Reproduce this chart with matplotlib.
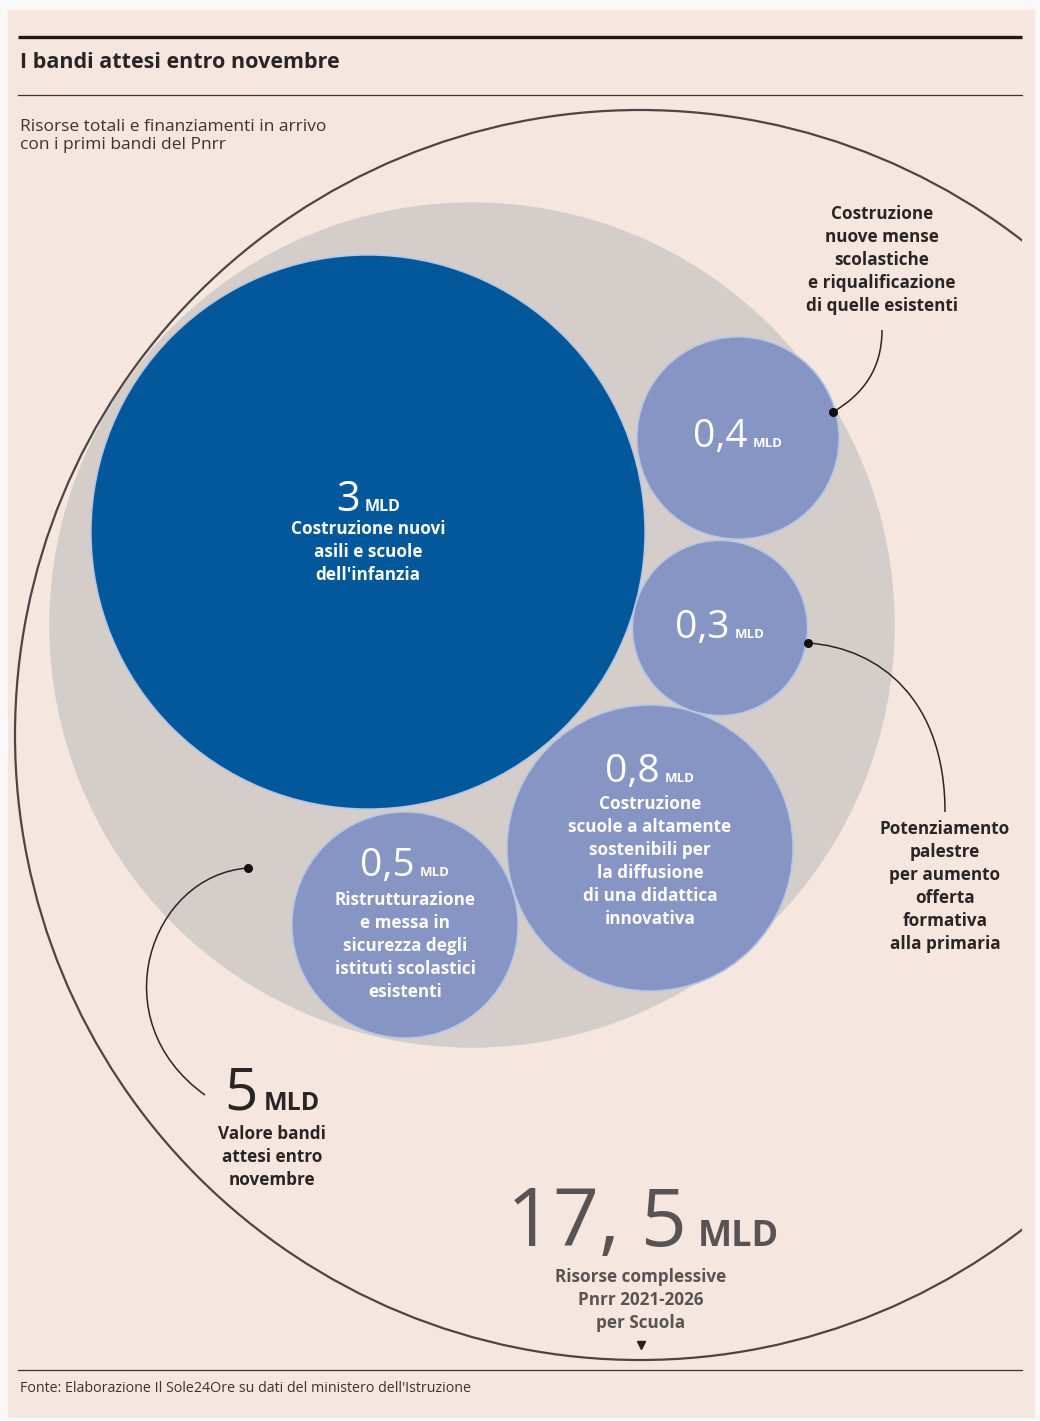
import matplotlib.pyplot as plt
from matplotlib.patches import Circle, Rectangle, PathPatch
from matplotlib.path import Path
import numpy as np

# --- dati ---
bandi_valori = [3, 0.4, 0.3, 0.8, 0.5]
bandi_etichette = ['3', '0,4', '0,3', '0,8', '0,5']
bandi_descrizioni = [
    "Costruzione nuovi\nasili e scuole\ndell'infanzia",
    "",
    "",
    "Costruzione\nscuole a altamente\nsostenibili per\nla diffusione\ndi una didattica\ninnovativa",
    "Ristrutturazione\ne messa in\nsicurezza degli\nistituti scolastici\nesistenti",
]
note_esterne = [
    "",
    "Costruzione\nnuove mense\nscolastiche\ne riqualificazione\ndi quelle esistenti",
    "Potenziamento\npalestre\nper aumento\nofferta\nformativa\nalla primaria",
    "",
    "",
]
totale_bandi = 5
totale_bandi_label = '5'
totale_pnrr = 17.5
totale_pnrr_label = '17, 5'

W, H = 1040, 1421
FONT = 'Open Sans'
BG = '#f5e7df'
GREY = '#d5cdc9'
DARK_BLUE = '#03589c'
LIGHT_BLUE = '#8795c4'
INK = '#2b2424'
LINE = '#4d4545'

# layout (pixel) – bolle impacchettate a mano come nell'originale
scale = 160  # px per sqrt(mld)
centers = [(368, 532), (738, 438), (720, 628), (650, 848), (405, 925)]
num_baseline = [511, 447, 638, 782, 876]
desc_offset = [9, 0, 0, 13, 15]
num_size = [30, 28, 28, 28, 28]
unit_size = [11.5, 9.5, 9.5, 9.5, 9.5]
desc_size = 12.3
LS = 1.36

fig = plt.figure(figsize=(W / 100, H / 100), dpi=100)
fig.patch.set_facecolor('#fbf9f7')
ax = fig.add_axes([0, 0, 1, 1])
ax.set_xlim(0, W)
ax.set_ylim(H, 0)
ax.set_aspect('equal')
ax.axis('off')

ax.add_patch(Rectangle((8, 10), W - 14, H - 14, color=BG, zorder=0))

# cerchio grigio (5 mld) e anello esterno (17,5 mld)
ax.add_patch(Circle((472, 625), 422, color=GREY, zorder=1))
outer = Circle((640, 735), 625, fill=False, lw=1.6, ec=LINE, zorder=2)
ax.add_patch(outer)
outer.set_clip_path(Rectangle((0, 0), 1022, H, transform=ax.transData))

renderer = fig.canvas.get_renderer()


def number_unit(cx, y, num, unit, nsize, usize, color, nweight='normal', uweight='bold', gap=5):
    t1 = ax.text(0, y, num, fontsize=nsize, family=FONT, weight=nweight, color=color,
                 ha='left', va='baseline', zorder=5)
    t2 = ax.text(0, y, unit, fontsize=usize, family=FONT, weight=uweight, color=color,
                 ha='left', va='baseline', zorder=5)
    w1 = t1.get_window_extent(renderer).width
    w2 = t2.get_window_extent(renderer).width
    x0 = cx - (w1 + gap + w2) / 2
    t1.set_x(x0)
    t2.set_x(x0 + w1 + gap)


for i, v in enumerate(bandi_valori):
    cx, cy = centers[i]
    r = scale * np.sqrt(v)
    col = DARK_BLUE if i == 0 else LIGHT_BLUE
    ax.add_patch(Circle((cx, cy), r, fc=col, ec='#b8c8e4', lw=1.2, zorder=3))
    number_unit(cx, num_baseline[i], bandi_etichette[i], 'MLD', num_size[i], unit_size[i], 'white')
    if bandi_descrizioni[i]:
        ax.text(cx, num_baseline[i] + desc_offset[i], bandi_descrizioni[i], fontsize=desc_size,
                family=FONT, weight='bold', color='white', ha='center', va='top',
                linespacing=LS, zorder=5)

# note esterne
ax.text(882, 205, note_esterne[1], fontsize=desc_size, family=FONT, weight='bold', color=INK,
        ha='center', va='top', linespacing=LS)
ax.text(945, 820, note_esterne[2], fontsize=desc_size, family=FONT, weight='bold', color=INK,
        ha='center', va='top', linespacing=LS)

# linee di richiamo
def leader(pts, dot):
    codes = [Path.MOVETO, Path.CURVE4, Path.CURVE4, Path.CURVE4]
    ax.add_patch(PathPatch(Path(pts, codes), fill=False, ec=INK, lw=1.1, zorder=6))
    ax.plot(*dot, 'o', ms=5.5, color='#111111', zorder=7)

leader([(833, 412), (862, 395), (882, 370), (882, 330)], (833, 412))
leader([(808, 643), (880, 648), (945, 700), (945, 812)], (808, 643))
leader([(248, 868), (150, 875), (100, 1020), (205, 1095)], (248, 868))

# 5 mld
number_unit(272, 1110, totale_bandi_label, 'MLD', 42, 18, INK, gap=6)
ax.text(272, 1125, "Valore bandi\nattesi entro\nnovembre", fontsize=desc_size, family=FONT,
        weight='bold', color=INK, ha='center', va='top', linespacing=LS)

# 17,5 mld
number_unit(643, 1246, totale_pnrr_label, 'MLD', 58, 26, '#5a5353', gap=10)
ax.text(641, 1268, "Risorse complessive\nPnrr 2021-2026\nper Scuola", fontsize=desc_size,
        family=FONT, weight='bold', color='#5a5353', ha='center', va='top', linespacing=LS)
ax.plot(641, 1345, 'v', ms=6, color='#222222', zorder=6)

# intestazione
ax.plot([18, 1022], [37, 37], color='#1e1a1a', lw=2.4, solid_capstyle='butt')
ax.text(20, 63, 'I bandi attesi entro novembre', fontsize=15.5, family=FONT, weight='bold',
        color=INK, ha='left', va='center')
ax.plot([18, 1022], [95, 95], color='#3a3333', lw=0.9)
ax.text(20, 136, 'Risorse totali e finanziamenti in arrivo\ncon i primi bandi del Pnrr', fontsize=12.5,
        family=FONT, color='#3a3333', ha='left', va='center', linespacing=1.2)

# piede
ax.plot([18, 1022], [1370, 1370], color='#3a3333', lw=0.9)
ax.text(20, 1388, "Fonte: Elaborazione Il Sole24Ore su dati del ministero dell'Istruzione",
        fontsize=10.3, family=FONT, color='#3a3333', ha='left', va='center')

fig.savefig('out.png', dpi=100, facecolor=fig.get_facecolor())
